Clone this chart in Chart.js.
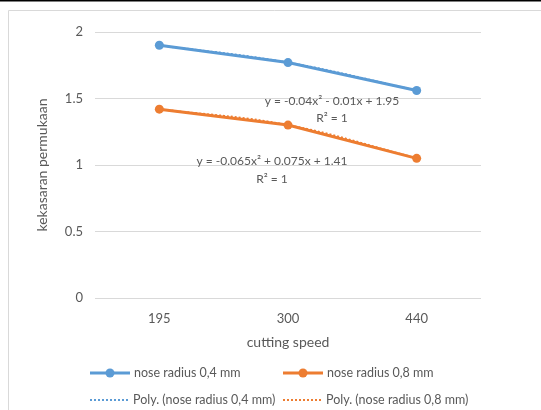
<!DOCTYPE html>
<html>
<head>
<meta charset="utf-8">
<script src="https://cdn.jsdelivr.net/npm/chart.js@4.4.1/dist/chart.umd.min.js"></script>
<style>
    html, body { margin: 0; padding: 0; background: #fff; }
    #wrap { width: 541px; height: 410px; }
</style>
</head>
<body>
<div id="wrap"><canvas id="speed-chart"></canvas></div>
<script>
    // data
    var speeds = ["195", "300", "440"];
    var radius04 = [1.9, 1.77, 1.56];
    var radius08 = [1.42, 1.3, 1.05];
    var trend04 = [1.9, 1.77, 1.56];
    var trend08 = [1.42, 1.3, 1.05];
    var yTicks = [0, 0.5, 1, 1.5, 2];

    var blue = "#5B9BD5";
    var orange = "#ED7D31";
    var textColor = "#595959";
    var gridColor = "#D9D9D9";
    var fontName = "Lato, 'Open Sans', sans-serif";

    // Frame (black rule on top + grey chart border)
    var framePlugin = {
        id: "frame",
        beforeDraw: function (chart) {
            var c = chart.ctx;
            c.save();
            c.fillStyle = "#000";
            c.fillRect(0, 0, chart.width, 1.5);
            c.strokeStyle = gridColor;
            c.lineWidth = 1;
            c.beginPath();
            c.moveTo(8.5, chart.height);
            c.lineTo(8.5, 10.5);
            c.lineTo(chart.width, 10.5);
            c.stroke();
            c.restore();
        }
    };

    // Trendline equations
    var equationPlugin = {
        id: "equations",
        afterDatasetsDraw: function (chart) {
            var c = chart.ctx;
            var x = chart.scales.x, y = chart.scales.y;
            c.save();
            c.fillStyle = textColor;
            c.font = "12px " + fontName;
            c.textAlign = "center";
            c.textBaseline = "middle";
            var bx = x.getPixelForValue(1) + 44;
            c.fillText("y = -0.04x\u00b2 - 0.01x + 1.95", bx, y.getPixelForValue(1.48));
            c.fillText("R\u00b2 = 1", bx, y.getPixelForValue(1.355));
            var ox = x.getPixelForValue(1) - 16;
            c.fillText("y = -0.065x\u00b2 + 0.075x + 1.41", ox, y.getPixelForValue(1.03));
            c.fillText("R\u00b2 = 1", ox, y.getPixelForValue(0.895));
            c.restore();
        }
    };

    // Legend, Excel style, two rows
    var legendPlugin = {
        id: "excelLegend",
        afterDraw: function (chart) {
            var c = chart.ctx;
            var ds = chart.data.datasets;
            var cols = [90, 283];
            var rows = [373, 400];
            c.save();
            c.font = "12.5px " + fontName;
            c.textBaseline = "middle";
            c.textAlign = "left";
            ds.forEach(function (d, i) {
                var lx = cols[i % 2], ly = rows[Math.floor(i / 2)];
                var dotted = d.pointRadius === 0;
                c.strokeStyle = d.borderColor;
                c.lineWidth = d.borderWidth;
                c.setLineDash(d.borderDash || []);
                c.beginPath();
                c.moveTo(lx, ly);
                c.lineTo(lx + (dotted ? 38 : 40), ly);
                c.stroke();
                c.setLineDash([]);
                if (!dotted) {
                    c.fillStyle = d.borderColor;
                    c.beginPath();
                    c.arc(lx + 20, ly, d.pointRadius, 0, Math.PI * 2);
                    c.fill();
                }
                c.fillStyle = textColor;
                c.fillText(d.label, lx + (dotted ? 43 : 44), ly);
            });
            c.restore();
        }
    };

    var ctx = document.getElementById("speed-chart").getContext("2d");
    var myChart = new Chart(ctx, {
        type: "line",
        data: {
            labels: speeds,
            datasets: [{
                    label: "nose radius 0,4 mm",
                    data: radius04,
                    borderColor: blue,
                    backgroundColor: blue,
                    borderWidth: 3,
                    pointRadius: 4.5,
                    pointBorderWidth: 0,
                    order: 1
                },
                {
                    label: "nose radius 0,8 mm",
                    data: radius08,
                    borderColor: orange,
                    backgroundColor: orange,
                    borderWidth: 3,
                    pointRadius: 4.5,
                    pointBorderWidth: 0,
                    order: 1
                },
                {
                    label: "Poly. (nose radius 0,4 mm)",
                    data: trend04,
                    borderColor: blue,
                    borderWidth: 2,
                    borderDash: [2, 2],
                    pointRadius: 0,
                    tension: 0.4,
                    order: 2
                },
                {
                    label: "Poly. (nose radius 0,8 mm)",
                    data: trend08,
                    borderColor: orange,
                    borderWidth: 2,
                    borderDash: [2, 2],
                    pointRadius: 0,
                    tension: 0.4,
                    order: 2
                }
            ]
        },
        options: {
            responsive: true,
            maintainAspectRatio: false,
            animation: false,
            layout: { padding: { left: 0, right: 60, top: 32, bottom: 52 } },
            plugins: {
                legend: { display: false },
                tooltip: { enabled: false }
            },
            scales: {
                x: {
                    offset: true,
                    grid: { display: false },
                    border: { display: false },
                    ticks: { color: textColor, font: { family: fontName, size: 13 }, padding: 5 },
                    title: {
                        display: true,
                        text: "cutting speed",
                        color: textColor,
                        font: { family: fontName, size: 14 },
                        padding: { top: 0, bottom: 7 }
                    },
                    afterFit: function (scale) { scale.height = 60; }
                },
                y: {
                    min: 0,
                    max: 2,
                    afterBuildTicks: function (scale) {
                        scale.ticks = yTicks.map(function (v) { return { value: v }; });
                    },
                    grid: { color: gridColor, drawTicks: false },
                    border: { display: false },
                    ticks: {
                        color: textColor,
                        font: { family: fontName, size: 13 },
                        padding: 12,
                        callback: function (v) { return String(v); }
                    },
                    title: {
                        display: true,
                        text: "kekasaran permukaan",
                        color: textColor,
                        font: { family: fontName, size: 14 },
                        padding: { top: 34, bottom: 0 }
                    },
                    afterFit: function (scale) { scale.width = 95; }
                }
            }
        },
        plugins: [framePlugin, equationPlugin, legendPlugin]
    });
</script>
</body>
</html>
